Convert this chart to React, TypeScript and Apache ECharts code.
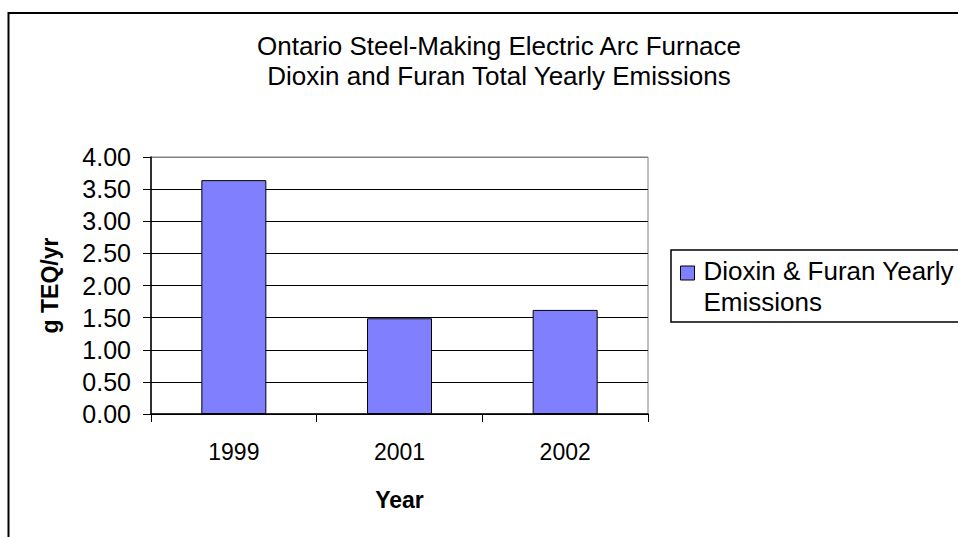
import React, { useEffect, useRef } from "react";
import * as echarts from "echarts";

// Yearly dioxin & furan emissions from Ontario steel-making electric arc furnaces
const years = ["1999", "2001", "2002"];
const emissions = [3.64, 1.49, 1.62];
const seriesName = "Dioxin & Furan Yearly Emissions";
const titleLines = [
  "Ontario Steel-Making Electric Arc Furnace",
  "Dioxin and Furan Total Yearly Emissions",
];
const yAxisTitle = "g TEQ/yr";
const xAxisTitle = "Year";

const FONT = "'Liberation Sans', Arial, Helvetica, sans-serif";

export default function App() {
  const ref = useRef<HTMLDivElement>(null);

  useEffect(() => {
    if (!ref.current) return;
    const chart = echarts.init(ref.current, null, { renderer: "svg" });

    chart.setOption({
      animation: false,
      backgroundColor: "#ffffff",
      textStyle: { fontFamily: FONT, color: "#000" },
      title: {
        text: titleLines.join("\n"),
        left: 499,
        top: 31,
        padding: 0,
        textAlign: "center",
        textStyle: {
          fontFamily: FONT,
          fontSize: 26,
          fontWeight: "normal",
          color: "#000",
          lineHeight: 30,
        },
      },
      graphic: [
        {
          type: "rect",
          shape: { x: 8.5, y: 13, width: 960, height: 600 },
          style: { fill: "none", stroke: "#000", lineWidth: 2 },
          silent: true,
          z: 100,
        },
      ],
      legend: {
        left: 671,
        top: 250,
        orient: "vertical",
        padding: [5, 40, 5, 9],
        borderColor: "#000",
        borderWidth: 1.5,
        itemWidth: 14,
        itemHeight: 40,
        itemGap: 0,
        icon: "path://M0,0L14,0L14,14L0,14Z M0,40L0,40",
        itemStyle: { color: "#8080FF", borderColor: "#000", borderWidth: 1 },
        formatter: () => "Dioxin & Furan Yearly\nEmissions",
        textStyle: {
          fontFamily: FONT,
          fontSize: 26,
          color: "#000",
          lineHeight: 31,
          padding: [0, 0, 0, 4],
        },
        data: [seriesName],
      },
      grid: {
        left: 151,
        right: 310,
        top: 157,
        bottom: 123,
        show: true,
        borderColor: "#808080",
        borderWidth: 1,
        containLabel: false,
      },
      xAxis: {
        type: "category",
        data: years,
        boundaryGap: true,
        axisLine: { show: true, lineStyle: { color: "#000", width: 1.5 } },
        axisTick: {
          show: true,
          alignWithLabel: false,
          inside: false,
          length: 8,
          lineStyle: { color: "#000", width: 1 },
        },
        axisLabel: {
          margin: 26,
          fontFamily: FONT,
          fontSize: 23,
          color: "#000",
        },
        splitLine: { show: false },
        name: xAxisTitle,
        nameLocation: "middle",
        nameGap: 74,
        nameTextStyle: {
          fontFamily: FONT,
          fontSize: 23,
          fontWeight: "bold",
          color: "#000",
        },
      },
      yAxis: {
        type: "value",
        min: 0,
        max: 4,
        interval: 0.5,
        axisLine: { show: true, lineStyle: { color: "#000", width: 1.5 } },
        axisTick: {
          show: true,
          inside: false,
          length: 8,
          lineStyle: { color: "#000", width: 1 },
        },
        axisLabel: {
          margin: 20,
          fontFamily: FONT,
          fontSize: 25,
          color: "#000",
          formatter: (v: number) => v.toFixed(2),
        },
        splitLine: {
          show: true,
          lineStyle: {
            color: [
              "#000", "#000", "#000", "#000", "#000",
              "#000", "#000", "#000", "#808080",
            ],
            width: 1,
          },
        },
        name: yAxisTitle,
        nameLocation: "middle",
        nameGap: 90,
        nameTextStyle: {
          fontFamily: FONT,
          fontSize: 23,
          fontWeight: "bold",
          color: "#000",
        },
      },
      series: [
        {
          name: seriesName,
          type: "bar",
          data: emissions,
          barWidth: 65,
          itemStyle: {
            color: "#8080FF",
            borderColor: "#000",
            borderWidth: 1,
          },
          emphasis: { disabled: true },
        },
      ],
    });

    return () => chart.dispose();
  }, []);

  return (
    <div
      ref={ref}
      style={{ position: "absolute", left: 0, top: 0, width: 958, height: 537 }}
    />
  );
}
